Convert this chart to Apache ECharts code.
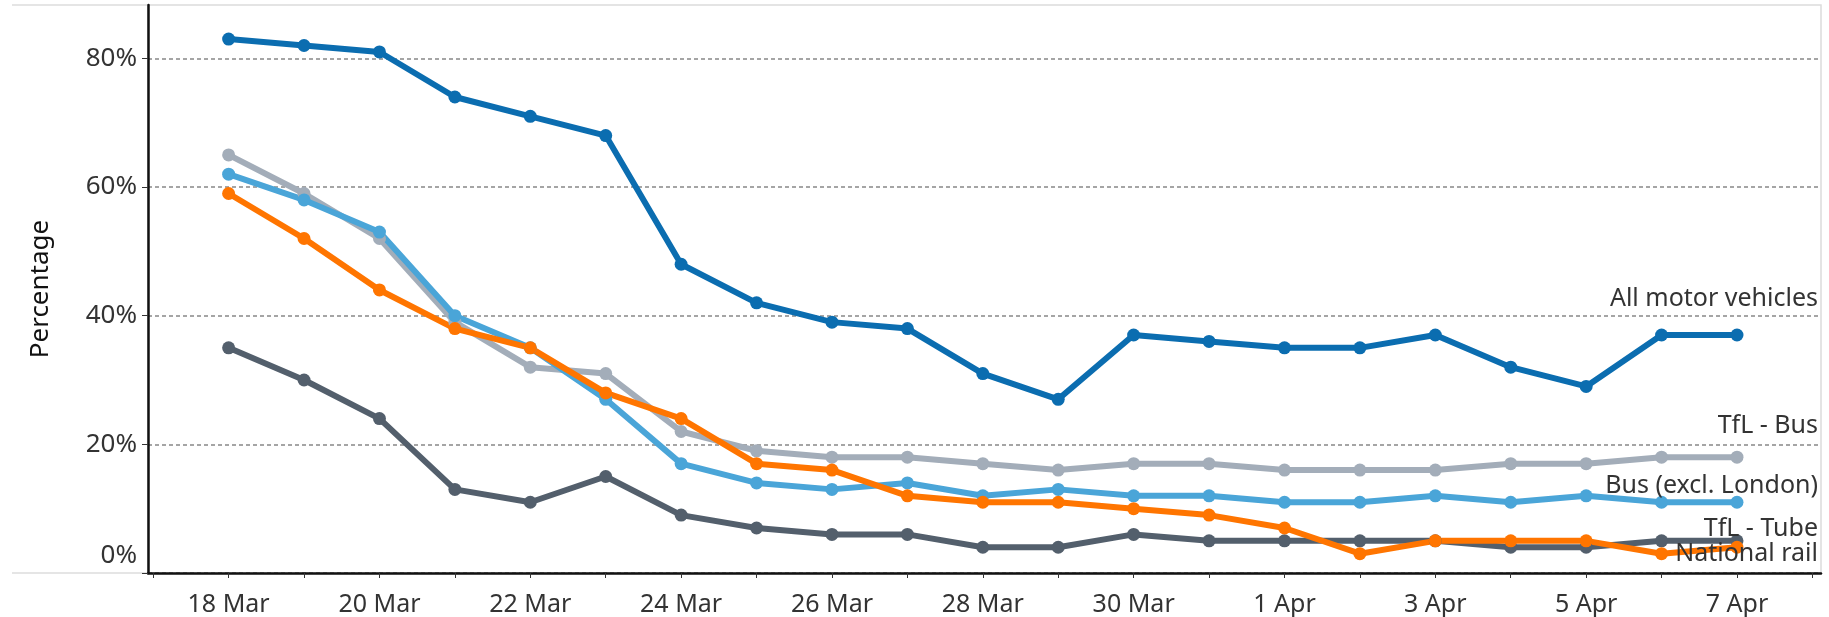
<!DOCTYPE html>
<html>
<head>
<meta charset="utf-8">
<script src="https://cdn.jsdelivr.net/npm/echarts@6/dist/echarts.min.js"></script>
<style>
  html, body { margin: 0; padding: 0; background: #fff; }
  #chart { width: 1829px; height: 617px; }
</style>
</head>
<body>
<div id="chart"></div>
<script>
// days from 18 Mar to 7 Apr
const dates = ["18 Mar", "19 Mar", "20 Mar", "21 Mar", "22 Mar", "23 Mar", "24 Mar",
  "25 Mar", "26 Mar", "27 Mar", "28 Mar", "29 Mar", "30 Mar", "31 Mar",
  "1 Apr", "2 Apr", "3 Apr", "4 Apr", "5 Apr", "6 Apr", "7 Apr"];

const allMotorVehicles = [83, 82, 81, 74, 71, 68, 48, 42, 39, 38, 31, 27, 37, 36, 35, 35, 37, 32, 29, 37, 37];
const tflBus = [65, 59, 52, 39, 32, 31, 22, 19, 18, 18, 17, 16, 17, 17, 16, 16, 16, 17, 17, 18, 18];
const busExclLondon = [62, 58, 53, 40, 35, 27, 17, 14, 13, 14, 12, 13, 12, 12, 11, 11, 12, 11, 12, 11, 11];
const nationalRail = [59, 52, 44, 38, 35, 28, 24, 17, 16, 12, 11, 11, 10, 9, 7, 3, 5, 5, 5, 3, 4];
const tflTube = [35, 30, 24, 13, 11, 15, 9, 7, 6, 6, 4, 4, 6, 5, 5, 5, 5, 4, 4, 5, 5];

const yTicks = [0, 20, 40, 60, 80];
const xTickDays = [-1, 0, 1, 2, 3, 4, 5, 6, 7, 8, 9, 10, 11, 12, 13, 14, 15, 16, 17, 18, 19, 20, 21];
const xLabelDays = [0, 2, 4, 6, 8, 10, 12, 14, 16, 18, 20];

const font = "Noto Sans";
const textColor = "#333";

// name, values, colour, end label offset
const seriesDefs = [
  ["TfL - Bus", tflBus, "#a3adb9", -31],
  ["TfL - Tube", tflTube, "#535f6c", -12],
  ["Bus (excl. London)", busExclLondon, "#4aa5d8", -16],
  ["National rail", nationalRail, "#ff7500", 7],
  ["All motor vehicles", allMotorVehicles, "#0b6db0", -36]
];

function buildSeries(def) {
  let name = def[0], vals = def[1], color = def[2], dy = def[3];
  let data = vals.map(function (v, i) {
    let item = { value: [i, v] };
    if (i === vals.length - 1) {
      item.label = {
        show: true,
        position: "inside",
        align: "right",
        verticalAlign: "middle",
        offset: [81, dy],
        formatter: name,
        color: textColor,
        fontFamily: font,
        fontSize: 25
      };
    }
    return item;
  });
  return {
    name: name,
    type: "line",
    data: data,
    symbol: "circle",
    symbolSize: 13,
    showSymbol: true,
    itemStyle: { color: color },
    lineStyle: { color: color, width: 6 },
    emphasis: { disabled: true },
    silent: true
  };
}

let myChart = echarts.init(document.getElementById("chart"), null, { renderer: "canvas" });
let option = {
  animation: false,
  backgroundColor: "#fff",
  grid: {
    left: 148,
    right: 8,
    top: 5,
    bottom: 44,
    show: true,
    borderColor: "#dcdcdc",
    borderWidth: 1.5
  },
  graphic: [
    { type: "line", shape: { x1: 12, y1: 5, x2: 148, y2: 5 }, style: { stroke: "#dcdcdc", lineWidth: 1.5 } },
    { type: "line", shape: { x1: 12, y1: 573, x2: 148, y2: 573 }, style: { stroke: "#dcdcdc", lineWidth: 1.5 } }
  ],
  xAxis: {
    type: "value",
    min: -1.069,
    max: 21.114,
    axisLine: { show: true, onZero: false, lineStyle: { color: "#111", width: 2.5 } },
    axisTick: { show: true, customValues: xTickDays, length: 5, lineStyle: { color: "#333" } },
    axisLabel: {
      customValues: xLabelDays,
      formatter: function (v) { return dates[v]; },
      margin: 19,
      color: textColor,
      fontFamily: font,
      fontSize: 25
    },
    splitLine: { show: false }
  },
  yAxis: {
    type: "value",
    min: 0,
    max: 88.3,
    interval: 20,
    name: "Percentage",
    nameLocation: "middle",
    nameGap: 94,
    nameTextStyle: { color: "#111", fontFamily: font, fontSize: 26 },
    axisLine: { show: true, onZero: false, lineStyle: { color: "#111", width: 2.5 } },
    axisTick: { show: true, customValues: yTicks, length: 6, lineStyle: { color: "#333" } },
    axisLabel: {
      customValues: yTicks,
      formatter: function (v) { return v === 0 ? "{z|0%}" : v + "%"; },
      margin: 11,
      color: textColor,
      fontFamily: font,
      fontSize: 26,
      rich: { z: { color: textColor, fontFamily: font, fontSize: 26, padding: [0, 0, 34, 0] } }
    },
    splitLine: { show: true, lineStyle: { color: "#888", type: [4, 3], width: 1.5 } }
  },
  series: seriesDefs.map(buildSeries)
};

if (option && typeof option === "object") myChart.setOption(option);
window.addEventListener("resize", function () {
  myChart.resize();
});
</script>
</body>
</html>
